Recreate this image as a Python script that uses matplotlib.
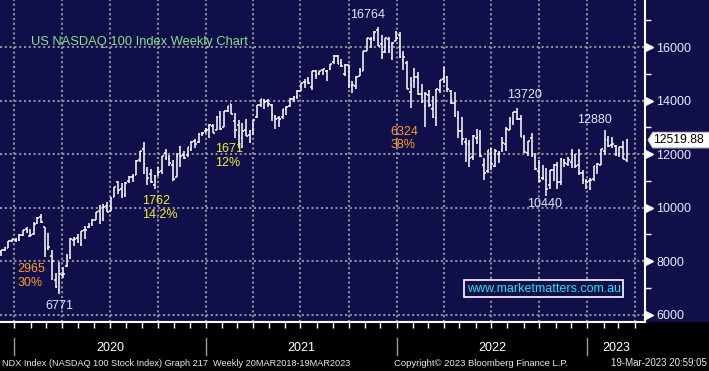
import numpy as np
import pandas as pd
import matplotlib
matplotlib.use('Agg')
import matplotlib.pyplot as plt
import matplotlib.dates as mdates
from matplotlib.ticker import MultipleLocator, NullFormatter
from matplotlib.patches import Polygon, Rectangle

# NDX weekly bars (week ending friday)
week_ending = pd.date_range('2019-12-06', '2023-03-17', freq='W-FRI')

opens = [
    8330, 8410, 8500, 8740,
    8800, 8780, 8980, 9180, 8940, 9010, 9420, 9640, 9260, 8470, 8200, 7280, 6930,
    7480, 7800, 8100, 8780, 8850, 8620, 9150, 9280, 9390, 9540, 9860, 9580, 10040,
    9880, 10400, 10950, 10700, 10480, 10980, 11150, 11230, 11790, 12200, 11400, 11270, 10850,
    11300, 11360, 12020, 11820, 11600, 11150, 12270, 11980, 11970, 12200, 12470, 12450, 12730,
    12860, 12940, 13030, 12900, 13370, 13010, 13610, 13880, 13250, 13100, 12610, 12900, 12700,
    12900, 13380, 13840, 14020, 14000, 13850, 13390, 13340, 13370, 13700, 13800, 14070, 14130,
    14370, 14690, 14770, 14520, 15090, 14990, 15130, 15110, 15170, 15450, 15680, 15400, 14990,
    15310, 14560, 14550, 14920, 15120, 15860, 16300, 16330, 16620, 16100, 15820, 16300, 15600, 16240,
    16460, 15500, 15400, 14300, 14720, 14860, 14240, 13800, 14190, 13680, 13350, 14400, 14800,
    14860, 14370, 13920, 13360, 12850, 12440, 12370, 11900, 12600, 12700, 11600, 11360, 12170,
    11570, 12000, 12150, 12380, 12900, 13200, 13560, 13300, 12620, 12050, 12580, 11880, 11380,
    11100, 11020, 10850, 11400, 11580, 10950, 11760, 11620, 11700, 11970, 11600, 11300, 11000,
    11000, 11050, 11500, 11600, 12100, 12520, 12330, 12300, 12000, 12270, 11780,
]
highs = [
    8420, 8540, 8740, 8820,
    8870, 9000, 9170, 9260, 9180, 9460, 9640, 9740, 9280, 9060, 8420, 7550, 7980,
    7760, 8250, 8850, 8890, 9000, 9140, 9290, 9420, 9560, 9840, 10100, 10120, 10220,
    10380, 10780, 10980, 10900, 10950, 11180, 11250, 11780, 12110, 12440, 11510, 11440, 11200,
    11500, 11920, 12190, 11950, 11770, 12040, 12290, 12120, 12270, 12470, 12570, 12770, 12840,
    12980, 13120, 13130, 13420, 13600, 13620, 13800, 13880, 13520, 13270, 13170, 13300, 12880,
    13270, 13850, 14060, 14070, 14060, 13880, 13470, 13430, 13690, 13780, 14090, 14180, 14390,
    14640, 14810, 14880, 15120, 15130, 15120, 15170, 15150, 15380, 15700, 15700, 15560, 15380,
    15340, 14740, 14900, 15230, 15850, 16350, 16390, 16600, 16764, 16450, 16340, 16370, 16200, 16580,
    16560, 15860, 15460, 14880, 15200, 15080, 14630, 14330, 14400, 14180, 14440, 14770, 15265,
    14920, 14380, 14300, 13590, 13400, 12580, 12520, 12710, 12930, 12900, 11840, 12150, 12210,
    12180, 12110, 12650, 13020, 13400, 13580, 13720, 13460, 12700, 12500, 12770, 12030, 11780,
    11590, 11470, 11420, 11640, 11690, 11850, 11830, 11880, 12170, 12000, 12170, 11400, 11080,
    11100, 11550, 11650, 12190, 12880, 12670, 12640, 12330, 12280, 12470, 12570,
]
lows = [
    8170, 8380, 8490, 8720,
    8700, 8740, 8950, 9050, 8910, 8990, 9400, 9430, 8160, 8410, 7290, 6980, 6771,
    7380, 7780, 8080, 8560, 8690, 8560, 8830, 9220, 9300, 9520, 9400, 9500, 9850,
    9860, 10380, 10500, 10360, 10380, 10930, 10950, 11200, 11700, 11260, 10860, 10900, 10680,
    11160, 11270, 11790, 11560, 10980, 11140, 11520, 11820, 11870, 12130, 12230, 12430, 12680,
    12780, 12580, 12800, 12900, 12900, 13000, 13580, 13480, 12610, 12210, 12230, 12680, 12410,
    12700, 13330, 13760, 13670, 13770, 13220, 12950, 13000, 13310, 13450, 13760, 13950, 14070,
    14370, 14450, 14600, 14400, 14810, 14940, 14950, 14720, 15130, 15370, 15360, 15250, 14900,
    14450, 14280, 14420, 14900, 15100, 15850, 15950, 16220, 16020, 15560, 15790, 15760, 15520, 16240,
    15600, 15140, 14420, 13720, 14450, 14210, 13900, 13020, 13760, 13330, 13060, 14280, 14650,
    14330, 13880, 13400, 12600, 12330, 11710, 11520, 11780, 12380, 11880, 11040, 11300, 11400,
    11500, 11660, 12080, 12100, 12890, 13080, 13270, 12640, 12030, 11920, 11900, 11400, 10970,
    11040, 10440, 10700, 10980, 10690, 10840, 11520, 11540, 11470, 11460, 11220, 10870, 10700,
    10670, 11000, 11260, 11580, 11960, 12260, 12240, 11940, 11870, 11830, 11700,
]
closes = [
    8410, 8490, 8730, 8810,
    8790, 8970, 9170, 9120, 8990, 9400, 9620, 9450, 8460, 8530, 7990, 7020, 7500,
    7530, 8150, 8830, 8810, 8720, 9120, 9150, 9320, 9550, 9820, 9590, 10030, 9850,
    10340, 10770, 10660, 10460, 10900, 11140, 11180, 11740, 12110, 11630, 11090, 10940, 11180,
    11330, 11920, 11850, 11670, 11050, 11940, 11940, 11860, 12260, 12460, 12380, 12760, 12800,
    12890, 13100, 12800, 13370, 12930, 13600, 13800, 13500, 12910, 12670, 12860, 12680, 12860,
    13270, 13850, 14040, 13930, 13860, 13470, 13300, 13300, 13690, 13770, 14070, 14140, 14360,
    14640, 14700, 14640, 15120, 14960, 15110, 15160, 15110, 15370, 15650, 15370, 15300, 15310,
    14570, 14580, 14890, 15090, 15850, 16350, 16290, 16570, 16030, 15710, 16340, 15840, 16160, 16320,
    15610, 15610, 14440, 14590, 14860, 14250, 13950, 14240, 13840, 13380, 14420, 14770, 14850,
    14420, 13900, 13420, 12850, 12570, 12390, 11840, 12680, 12620, 11920, 11290, 12140, 11620,
    12130, 12020, 12400, 12950, 13220, 13560, 13290, 12650, 12080, 12480, 11960, 11450, 11000,
    11090, 10700, 11400, 11580, 10960, 11820, 11680, 11780, 11990, 11570, 11290, 11040, 10940,
    11040, 11540, 11620, 12170, 12570, 12300, 12360, 11990, 12270, 11830, 12519.88,
]

price_ticks = [6000, 8000, 10000, 12000, 14000, 16000]
years = [2020, 2021, 2022, 2023]

# move labels: (text, anchor week, anchor on 'high'/'low', dx px, dy px, ha, colour)
WHITE_LBL = '#dfe8ff'
ORANGE = '#ff9a2e'
YELLOW = '#f2f22a'
labels = [
    ('16764', '2021-11-26', 'high', -10, 12, 'center', WHITE_LBL),
    ('6771', '2020-03-27', 'low', 0, -12, 'center', WHITE_LBL),
    ('2965\n30%', '2020-03-27', 'low', -42, 18, 'left', ORANGE),
    ('1762\n14.2%', '2020-09-25', 'low', -13, -19, 'left', YELLOW),
    ('1671\n12%', '2021-03-05', 'low', -24, -8, 'left', YELLOW),
    ('6324\n38%', '2021-11-26', 'high', 13, -112, 'left', ORANGE),
    ('13720', '2022-08-19', 'high', 8, 13, 'center', WHITE_LBL),
    ('12880', '2023-02-03', 'high', -10, 10, 'center', WHITE_LBL),
    ('10440', '2022-10-14', 'low', -2, -8, 'center', WHITE_LBL),
]

NAVY = '#100f4a'
GRID = '#8e8e9a'
plt.rcParams['font.family'] = ['Liberation Sans', 'DejaVu Sans']

fig = plt.figure(figsize=(7.09, 3.71), dpi=100, facecolor=NAVY)
# black strip under the chart
fig.patches.append(Rectangle((0, 0), 1, 49 / 371, transform=fig.transFigure,
                             facecolor='black', edgecolor='none', zorder=-1))
ax = fig.add_axes([0, 49 / 371, 645 / 709, 322 / 371], facecolor=NAVY)

# OHLC bars
half = pd.Timedelta(days=3.2)
ax.vlines(week_ending, lows, highs, color='white', lw=1.1, zorder=3)
ax.hlines(opens, week_ending - half, week_ending, color='white', lw=1.1, zorder=3)
ax.hlines(closes, week_ending, week_ending + half, color='white', lw=1.1, zorder=3)

ax.set_xlim(pd.Timestamp('2019-12-04 07:00'), pd.Timestamp('2023-04-21'))
ax.set_ylim(5720, 17757)

# grid and ticks
ax.xaxis.set_major_locator(mdates.MonthLocator(bymonth=[1, 4, 7, 10]))
ax.xaxis.set_minor_locator(mdates.MonthLocator())
ax.xaxis.set_major_formatter(NullFormatter())
ax.set_yticks(price_ticks)
ax.yaxis.set_minor_locator(MultipleLocator(1000))
ax.grid(True, which='major', color=GRID, linestyle=(0, (1, 1.3)), linewidth=1.5)
ax.set_axisbelow(True)

for side in ['left', 'top']:
    ax.spines[side].set_visible(False)
for side in ['right', 'bottom']:
    ax.spines[side].set_color('white')
    ax.spines[side].set_linewidth(1.5)

ax.tick_params(axis='x', which='both', direction='out', length=4, width=1,
               colors='white', labelbottom=False)
ax.yaxis.tick_right()
ax.tick_params(axis='y', which='major', length=0, pad=8, labelsize=9,
               labelcolor='#e6ecff')
ax.tick_params(axis='y', which='minor', direction='out', length=4, width=1,
               color='white')
ax.plot([1.006] * len(price_ticks), price_ticks, ls='none', marker='>', ms=6,
        color='white', transform=ax.get_yaxis_transform(), clip_on=False, zorder=5)

# year separators and labels in the strip
xt = ax.get_xaxis_transform()
x_right = pd.Timestamp(mdates.num2date(ax.get_xlim()[1])).tz_localize(None)
for yr in years:
    start = pd.Timestamp(f'{yr}-01-01')
    ax.plot([start, start], [-0.05, -0.103], color='#9a9a9a', lw=1,
            transform=xt, clip_on=False)
    end = min(pd.Timestamp(f'{yr + 1}-01-01'), x_right)
    ax.text(start + (end - start) / 2, -0.08, str(yr), transform=xt,
            ha='center', va='center', color='white', fontsize=9)

# move annotations
for text, wk, side, dx, dy, ha, col in labels:
    i = week_ending.get_loc(pd.Timestamp(wk))
    y = highs[i] if side == 'high' else lows[i]
    ax.annotate(text, xy=(week_ending[i], y), xytext=(dx, dy),
                textcoords='offset pixels', ha=ha, va='center', color=col,
                fontsize=9, linespacing=1.2, zorder=6)

ax.text(0.048, 0.870, 'US NASDAQ 100 Index Weekly Chart', transform=ax.transAxes,
        color='#84e28c', fontsize=9.3, va='center', ha='left')
ax.text(0.8434, 0.1025, 'www.marketmatters.com.au', transform=ax.transAxes,
        color='#22e2ec', fontsize=9, ha='center', va='center', zorder=6,
        bbox=dict(boxstyle='square,pad=0.2', facecolor=NAVY, edgecolor='white', lw=1.2))

# last price flag
last = closes[-1]
yt = ax.get_yaxis_transform()
flag = Polygon([(1.0047, last), (1.012, last + 290), (1.1, last + 290),
                (1.1, last - 290), (1.012, last - 290)], closed=True,
               facecolor='white', edgecolor='#c8c8c8', lw=0.8,
               transform=yt, clip_on=False, zorder=7)
ax.add_patch(flag)
ax.text(1.013, last, f'{last:.2f}', transform=yt, color='black', fontsize=8.8,
        ha='left', va='center', zorder=8, clip_on=False)

# footer
fig.text(0.003, 0.021, 'NDX Index (NASDAQ 100 Stock Index) Graph 217  Weekly 20MAR2018-19MAR2023',
         color='#e8e8f0', fontsize=6.6, va='center', ha='left')
fig.text(0.556, 0.021, 'Copyright\u00a9 2023 Bloomberg Finance L.P.',
         color='#e8e8f0', fontsize=6.8, va='center', ha='left')
fig.text(0.997, 0.021, '19-Mar-2023 20:59:05',
         color='#e8e8f0', fontsize=7, va='center', ha='right')

fig.savefig('out.png', dpi=100, facecolor=NAVY)
